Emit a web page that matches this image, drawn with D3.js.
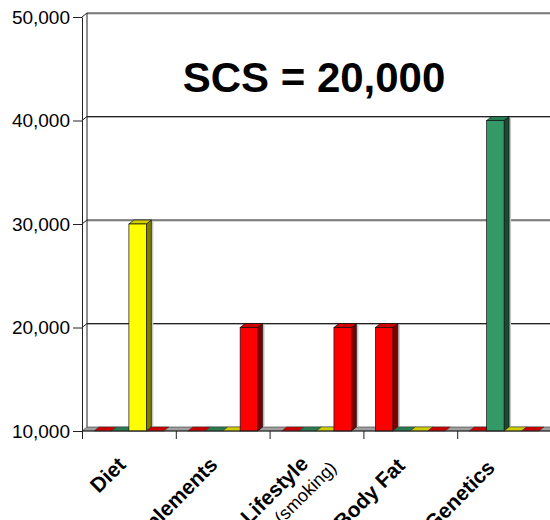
<!DOCTYPE html>
<html>
<head>
<meta charset="utf-8">
<script src="https://cdn.jsdelivr.net/npm/d3@7"></script>
<style>
  body { margin: 0; background: #fff; }
  svg { display: block; font-family: "Liberation Sans", Arial, sans-serif; }
</style>
</head>
<body>
<div id="chart"></div>
<script>
// categories and series (10,000 = floor)
const categories = ["Diet", "Supplements", "Lifestyle", "Body Fat", "Genetics"];
const seriesColors = ["#ff0000", "#339966", "#ffff00", "#ff0000"];
const s1 = [10000, 10000, 10000, 20000, 10000];
const s2 = [10000, 10000, 10000, 10000, 40000];
const s3 = [30000, 10000, 10000, 10000, 10000];
const s4 = [10000, 20000, 20000, 10000, 10000];
const series = [s1, s2, s3, s4];
const yTicks = [10000, 20000, 30000, 40000, 50000];
const title = "SCS = 20,000";

const opt = {width: 550, height: 520, left: 82, right: 551, top: 17, bottom: 431, dx: 5, dy: 4, gap: 12};
// label end offsets from category centre (layout only)
const labelShift = {"Diet": [-2, 466], "Supplements": [-4, 466], "Lifestyle": [-7, 465], "Body Fat": [-4, 467], "Genetics": [-8, 469]};

const svg = d3.select("#chart").append("svg")
  .attr("width", opt.width)
  .attr("height", opt.height);

const yScale = d3.scaleLinear()
  .domain([10000, 50000])
  .range([opt.bottom, opt.top]);

const xScale = d3.scaleBand()
  .domain(categories)
  .range([opt.left, opt.right]);

const inner = d3.scaleBand()
  .domain(d3.range(series.length))
  .range([opt.gap, xScale.bandwidth() - opt.gap]);

const idxScale = d3.scaleLinear().domain([0, categories.length]).range([opt.left, opt.right]);

// back wall gridlines
yTicks.slice(1).forEach((t) => {
  const y = yScale(t) - opt.dy;
  svg.append("line")
    .attr("x1", opt.left + opt.dx).attr("x2", opt.width)
    .attr("y1", y + 1).attr("y2", y + 1)
    .attr("stroke", "#b0b0b0").attr("stroke-width", 1);
  svg.append("line")
    .attr("x1", opt.left + opt.dx).attr("x2", opt.width)
    .attr("y1", y).attr("y2", y)
    .attr("stroke", "#222").attr("stroke-width", 1);
  // side wall connector
  svg.append("line")
    .attr("x1", opt.left).attr("y1", yScale(t))
    .attr("x2", opt.left + opt.dx).attr("y2", y)
    .attr("stroke", "#222");
});

// back wall left edge
svg.append("line")
  .attr("x1", opt.left + opt.dx).attr("x2", opt.left + opt.dx)
  .attr("y1", yScale(50000) - opt.dy).attr("y2", opt.bottom - opt.dy)
  .attr("stroke", "#222");

// floor
svg.append("polygon")
  .attr("points", [
    [opt.left, opt.bottom], [opt.width + 10, opt.bottom],
    [opt.width + 10, opt.bottom - opt.dy], [opt.left + opt.dx, opt.bottom - opt.dy]
  ].join(" "))
  .attr("fill", "#a0a0a0")
  .attr("stroke", "#333")
  .attr("stroke-width", 0.6);

// bars, left to right
const bars = [];
categories.forEach((c, i) => {
  series.forEach((s, k) => {
    bars.push({cat: c, k: k, v: s[i], color: seriesColors[k]});
  });
});

bars.forEach((d) => {
  const x = xScale(d.cat) + inner(d.k);
  const w = inner.bandwidth();
  const yTop = yScale(d.v);
  const base = yScale(10000);
  const col = d3.color(d.color);
  const topCol = col.darker(0.6).formatHex();
  const sideCol = col.darker(2).formatHex();
  const g = svg.append("g");
  if (d.v <= 10000) {
    g.append("polygon")
      .attr("points", [[x, base], [x + w, base], [x + w + opt.dx, base - opt.dy], [x + opt.dx, base - opt.dy]].join(" "))
      .attr("fill", topCol)
      .attr("stroke", "#333")
      .attr("stroke-width", 0.5);
    return;
  }
  // light shadow on the wall
  g.append("rect")
    .attr("x", x + w + opt.dx).attr("y", yTop - opt.dy + 1)
    .attr("width", 2).attr("height", base - yTop - 1)
    .attr("fill", "#c8c8c8");
  g.append("polygon")
    .attr("points", [[x + w, yTop], [x + w + opt.dx, yTop - opt.dy], [x + w + opt.dx, base - opt.dy], [x + w, base]].join(" "))
    .attr("fill", sideCol)
    .attr("stroke", "#111").attr("stroke-width", 0.7);
  g.append("polygon")
    .attr("points", [[x, yTop], [x + opt.dx, yTop - opt.dy], [x + w + opt.dx, yTop - opt.dy], [x + w, yTop]].join(" "))
    .attr("fill", topCol)
    .attr("stroke", "#111").attr("stroke-width", 0.7);
  g.append("rect")
    .attr("x", x).attr("y", yTop)
    .attr("width", w).attr("height", base - yTop)
    .attr("fill", d.color)
    .attr("stroke", "#111").attr("stroke-width", 0.7);
});

// y axis
svg.append("g")
  .attr("transform", "translate(" + opt.left + ",0)")
  .call(d3.axisLeft(yScale).tickValues(yTicks).tickFormat(d3.format(",")).tickSize(9).tickSizeOuter(0).tickPadding(3))
  .call((g) => {
    g.selectAll("text").attr("font-size", "19px").attr("fill", "#000").attr("font-family", "Liberation Sans, Arial, sans-serif");
    g.selectAll("line, path").attr("stroke", "#222");
  });

// x axis
svg.append("g")
  .attr("transform", "translate(0," + opt.bottom + ")")
  .call(d3.axisBottom(idxScale).tickValues(d3.range(categories.length + 1)).tickFormat("").tickSize(8).tickSizeOuter(0))
  .call((g) => {
    g.select("path").attr("d", "M" + opt.left + ",0H" + (opt.width + 10));
    g.selectAll("line, path").attr("stroke", "#222");
  });

// category labels
const labelLines = {
  "Lifestyle": [{t: "Lifestyle", bold: true, dx: 0, dy: 0}, {t: "(smoking)", bold: false, dx: 28, dy: 4}]
};
categories.forEach((c) => {
  const cx = xScale(c) + xScale.bandwidth() / 2;
  const lines = labelLines[c] || [{t: c, bold: true, dx: 0, dy: 0}];
  const ax = cx + labelShift[c][0], ay = labelShift[c][1];
  lines.forEach((l) => {
    const px = ax + l.dx, py = ay + l.dy;
    svg.append("text")
      .attr("transform", "translate(" + px + "," + py + ") rotate(-45)")
      .attr("text-anchor", "end")
      .attr("font-size", l.bold ? "21px" : "18px")
      .attr("font-weight", l.bold ? "bold" : "normal")
      .attr("fill", "#000")
      .text(l.t);
  });
});

// title
svg.append("text")
  .attr("x", 314).attr("y", 92)
  .attr("text-anchor", "middle")
  .attr("font-size", "42px")
  .attr("font-weight", "bold")
  .attr("fill", "#000")
  .text(title);
</script>
</body>
</html>
